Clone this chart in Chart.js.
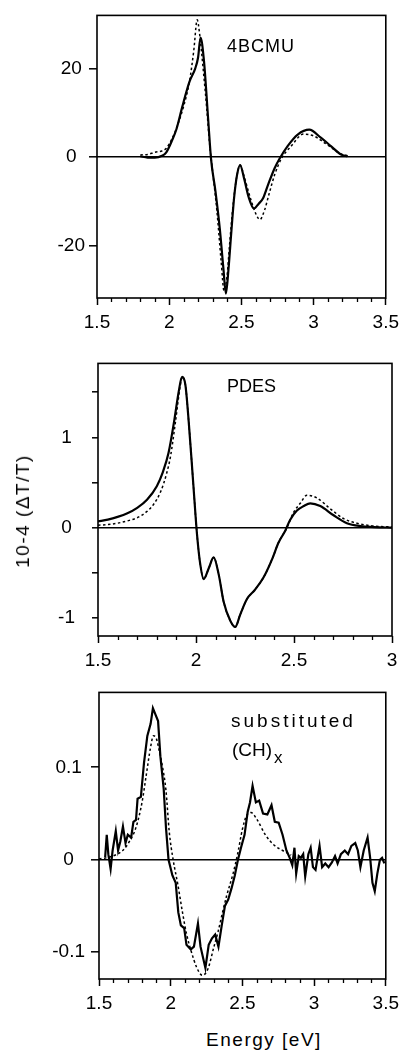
<!DOCTYPE html>
<html>
<head>
<meta charset="utf-8">
<script src="https://cdn.jsdelivr.net/npm/chart.js@4.4.1/dist/chart.umd.min.js"></script>
<style>
body{margin:0;background:#fff;width:405px;height:1055px;position:relative;overflow:hidden;font-family:"Liberation Sans",Arial,sans-serif;color:#000;}
canvas{position:absolute;left:0;}
.lbl{position:absolute;font-size:18px;line-height:18px;white-space:nowrap;}
</style>
</head>
<body>
<canvas id="c1" width="405" height="335" style="top:0px"></canvas>
<canvas id="c2" width="405" height="340" style="top:335px"></canvas>
<canvas id="c3" width="405" height="345" style="top:675px"></canvas>

<div class="lbl" style="left:227px;top:37px;letter-spacing:1px">4BCMU</div>
<div class="lbl" style="left:227px;top:377px">PDES</div>
<div class="lbl" style="left:231px;top:712px;font-size:19px;letter-spacing:3px">substituted</div>
<div class="lbl" style="left:232px;top:741px;font-size:19px">(CH)<span style="font-size:17px;position:relative;top:7px;margin-left:2px">x</span></div>
<div class="lbl" style="left:23px;top:511px;font-size:19px;letter-spacing:1.5px;transform:translate(-50%,-50%) rotate(-90deg)">10-4 (ΔT/T)</div>
<div class="lbl" style="left:264px;top:1040px;font-size:19px;letter-spacing:1.5px;transform:translate(-50%,-50%)">Energy [eV]</div>

<script>
// 4BCMU panel
const bcmuSolidE = [1.80,1.85,1.90,1.95,1.98,2.02,2.05,2.09,2.14,2.18,2.20,2.217,2.24,2.27,2.29,2.32,2.35,2.375,2.393,2.41,2.43,2.45,2.47,2.491,2.52,2.55,2.587,2.62,2.65,2.685,2.73,2.765,2.82,2.89,2.97,3.05,3.12,3.19,3.235];
const bcmuSolidV = [0.2,-0.1,-0.1,0.3,1.1,3.8,6.3,11.3,17,20,22.5,27,22,8.5,-0.5,-7.6,-16,-25,-30.8,-25.5,-17,-9,-4,-1.8,-5,-9,-11.6,-10.5,-9.3,-6.2,-2.5,-0.3,2.5,5.1,6.2,4.4,2.5,0.6,0.2];
const bcmuFitE = [1.80,1.85,1.90,1.95,1.98,2.02,2.05,2.10,2.14,2.17,2.194,2.21,2.235,2.26,2.28,2.30,2.33,2.36,2.38,2.40,2.42,2.445,2.47,2.49,2.52,2.56,2.60,2.628,2.66,2.69,2.73,2.776,2.845,2.93,3.00,3.06,3.12,3.19,3.24];
const bcmuFitV = [0.5,0.6,1.1,1.4,2.0,4.2,6.5,11.5,17,24,31,28,20,11,3,-3,-12,-23.6,-30.2,-27,-19,-10,-4,-1.8,-4.5,-9,-12.8,-14.1,-12,-8.5,-4,-0.4,2.5,5.2,4.8,3.6,2.2,0.7,0.3];

// PDES panel
const pdesSolidE = [1.5,1.55,1.60,1.65,1.70,1.75,1.80,1.83,1.86,1.89,1.912,1.929,1.946,1.963,1.985,2.005,2.022,2.039,2.065,2.09,2.116,2.141,2.175,2.20,2.226,2.26,2.30,2.345,2.39,2.42,2.456,2.48,2.515,2.55,2.583,2.634,2.70,2.77,2.84,2.91,3.0];
const pdesSolidV = [0.07,0.09,0.12,0.16,0.22,0.31,0.46,0.61,0.83,1.2,1.51,1.67,1.58,1.17,0.52,-0.07,-0.41,-0.57,-0.45,-0.33,-0.52,-0.82,-1.03,-1.1,-0.96,-0.79,-0.69,-0.55,-0.34,-0.17,-0.03,0.086,0.19,0.24,0.27,0.24,0.14,0.05,0.017,0.007,0.0];
const pdesFitE = [1.5,1.55,1.60,1.65,1.70,1.75,1.784,1.82,1.85,1.87,1.895,1.92,1.929,1.946,1.963,1.985,2.005,2.022,2.039,2.065,2.09,2.116,2.141,2.175,2.20,2.226,2.26,2.30,2.345,2.39,2.42,2.464,2.498,2.532,2.566,2.617,2.685,2.753,2.821,2.9,3.0];
const pdesFitV = [0.027,0.035,0.05,0.075,0.11,0.18,0.26,0.40,0.60,0.79,1.17,1.58,1.67,1.58,1.17,0.52,-0.07,-0.41,-0.57,-0.45,-0.33,-0.52,-0.82,-1.03,-1.1,-0.96,-0.79,-0.69,-0.55,-0.34,-0.17,0.0,0.17,0.27,0.36,0.33,0.21,0.10,0.05,0.02,0.007];

// substituted (CH)x panel
const chSolidE = [1.543,1.554,1.565,1.581,1.595,1.617,1.633,1.649,1.667,1.685,1.701,1.724,1.74,1.758,1.769,1.792,1.814,1.837,1.86,1.876,1.894,1.912,1.928,1.951,1.967,1.985,2.012,2.035,2.053,2.071,2.094,2.11,2.14,2.162,2.19,2.208,2.242,2.265,2.288,2.31,2.333,2.356,2.378,2.401,2.424,2.447,2.469,2.492,2.515,2.537,2.553,2.571,2.594,2.617,2.644,2.674,2.703,2.726,2.753,2.78,2.807,2.83,2.848,2.863,2.875,2.893,2.908,2.924,2.938,2.96,2.976,2.992,3.01,3.038,3.056,3.078,3.101,3.124,3.146,3.164,3.187,3.214,3.237,3.26,3.287,3.305,3.323,3.346,3.373,3.391,3.407,3.423,3.441,3.459,3.474,3.49];
const chSolidV = [0.003,0.027,0.006,-0.010,0.010,0.031,0.010,0.020,0.036,0.018,0.027,0.024,0.041,0.043,0.066,0.068,0.105,0.134,0.147,0.164,0.157,0.150,0.112,0.077,0.035,0.0,-0.017,-0.025,-0.057,-0.071,-0.074,-0.092,-0.097,-0.094,-0.069,-0.094,-0.117,-0.092,-0.085,-0.081,-0.094,-0.071,-0.050,-0.043,-0.031,-0.017,0.0,0.014,0.027,0.052,0.062,0.080,0.062,0.064,0.050,0.049,0.059,0.041,0.040,0.027,0.010,0.002,-0.006,0.013,-0.015,0.004,0.002,0.006,-0.018,0.006,0.013,-0.008,-0.011,0.015,-0.008,-0.004,-0.008,-0.003,0.004,-0.004,0.006,0.010,0.006,0.015,0.018,0.010,-0.008,0.010,0.024,0.002,-0.025,-0.034,-0.015,0.0,0.002,-0.004];
const chFitE = [1.5,1.575,1.665,1.713,1.758,1.80,1.83,1.86,1.88,1.90,1.92,1.94,1.967,1.99,2.017,2.05,2.08,2.11,2.145,2.18,2.22,2.26,2.30,2.33,2.36,2.39,2.435,2.469,2.50,2.53,2.56,2.60,2.66,2.72,2.78,2.84];
const chFitV = [0.001,0.003,0.01,0.02,0.035,0.062,0.092,0.122,0.134,0.131,0.118,0.103,0.075,0.03,0.0,-0.027,-0.055,-0.08,-0.1,-0.116,-0.125,-0.118,-0.095,-0.078,-0.058,-0.039,-0.015,0.008,0.033,0.048,0.051,0.044,0.027,0.016,0.01,0.005];

const ticksE1 = [1.5,2,2.5,3,3.5];
const ticksE2 = [1.5,2,2.5,3];
const ticksY1 = [-20,0,20];
const ticksY2 = [-1,-0.5,0,0.5,1,1.5];
const ticksY3 = [-0.1,0,0.1];

const FONT = '"Liberation Sans", Arial, sans-serif';

function toPts(xs, ys){
    return xs.map((x,i)=>({x:x, y:ys[i]}));
}

// box around the plot and the short 0.1 ticks on the energy axis
const framePlugin = {
    id: 'frame',
    afterDraw(chart){
        const ctx = chart.ctx, a = chart.chartArea, xs = chart.scales.x;
        ctx.save();
        ctx.strokeStyle = '#000';
        ctx.lineWidth = 1.6;
        ctx.strokeRect(a.left, a.top, a.right-a.left, a.bottom-a.top);
        ctx.lineWidth = 1.3;
        for (let k = Math.round(xs.min*10); k <= Math.round(xs.max*10); k++){
            if (k % 5 === 0) continue;
            const px = Math.round(xs.getPixelForValue(k/10)) + 0.5;
            ctx.beginPath();
            ctx.moveTo(px, a.bottom);
            ctx.lineTo(px, a.bottom+4);
            ctx.stroke();
        }
        ctx.restore();
    }
};

function makePanel(id, p){
    const canvas = document.getElementById(id);
    const H = canvas.height;
    new Chart(canvas, {
        type: 'line',
        data: {
            datasets: [{
                data: toPts(p.solidE, p.solidV),
                borderColor: '#000',
                borderWidth: 2.2,
                pointRadius: 0,
                cubicInterpolationMode: p.smooth ? 'monotone' : 'default',
                tension: 0,
                order: 1
            }, {
                data: toPts(p.fitE, p.fitV),
                borderColor: '#000',
                borderWidth: 1.5,
                borderDash: [2.5,2.5],
                pointRadius: 0,
                cubicInterpolationMode: 'monotone',
                order: 2
            }]
        },
        options: {
            responsive: false,
            animation: false,
            events: [],
            plugins: {legend: {display: false}, tooltip: {enabled: false}},
            layout: {padding: {top: p.top, right: 405-p.right, left: 0, bottom: 0}},
            scales: {
                x: {
                    type: 'linear',
                    min: p.xTicks[0],
                    max: p.xTicks[p.xTicks.length-1],
                    afterBuildTicks: s => { s.ticks = p.xTicks.map(v=>({value:v})); },
                    afterFit: s => { s.height = H - p.bottom; },
                    border: {display: false},
                    grid: {drawOnChartArea: false, tickLength: 7, tickColor: '#000', tickWidth: 1.5},
                    ticks: {color: '#000', font: {family: FONT, size: 19}, padding: 6, maxRotation: 0, autoSkip: false,
                        callback: v => String(v)}
                },
                y: {
                    min: p.yMin,
                    max: p.yMax,
                    afterBuildTicks: s => { s.ticks = p.yTicks.map(v=>({value:v})); },
                    afterFit: s => { s.width = p.left; },
                    border: {display: false},
                    grid: {
                        tickLength: p.yTickLen,
                        tickColor: '#000',
                        tickWidth: 1.5,
                        color: c => (c.tick && c.tick.value === 0) ? '#000' : 'rgba(0,0,0,0)',
                        lineWidth: 1.6
                    },
                    ticks: {color: '#000', font: {family: FONT, size: 19}, padding: p.yPad, crossAlign: 'center', autoSkip: false,
                        callback: v => p.yLabel(v)}
                }
            }
        },
        plugins: [framePlugin]
    });
}

makePanel('c1', {
    solidE: bcmuSolidE, solidV: bcmuSolidV, fitE: bcmuFitE, fitV: bcmuFitV, smooth: true,
    xTicks: ticksE1, yTicks: ticksY1, yMin: -31.8, yMax: 32,
    top: 5, bottom: 298, left: 97, right: 389, yTickLen: 8, yPad: 4,
    yLabel: v => String(v)
});
makePanel('c2', {
    solidE: pdesSolidE, solidV: pdesSolidV, fitE: pdesFitE, fitV: pdesFitV, smooth: true,
    xTicks: ticksE2, yTicks: ticksY2, yMin: -1.2, yMax: 1.82,
    top: 8, bottom: 301, left: 98, right: 392, yTickLen: 6, yPad: 17,
    yLabel: v => Number.isInteger(v) ? String(v) : ''
});
makePanel('c3', {
    solidE: chSolidE, solidV: chSolidV, fitE: chFitE, fitV: chFitV, smooth: false,
    xTicks: ticksE1, yTicks: ticksY3, yMin: -0.129, yMax: 0.181,
    top: 9, bottom: 304, left: 99, right: 394, yTickLen: 8, yPad: 6,
    yLabel: v => String(v)
});
</script>
</body>
</html>
